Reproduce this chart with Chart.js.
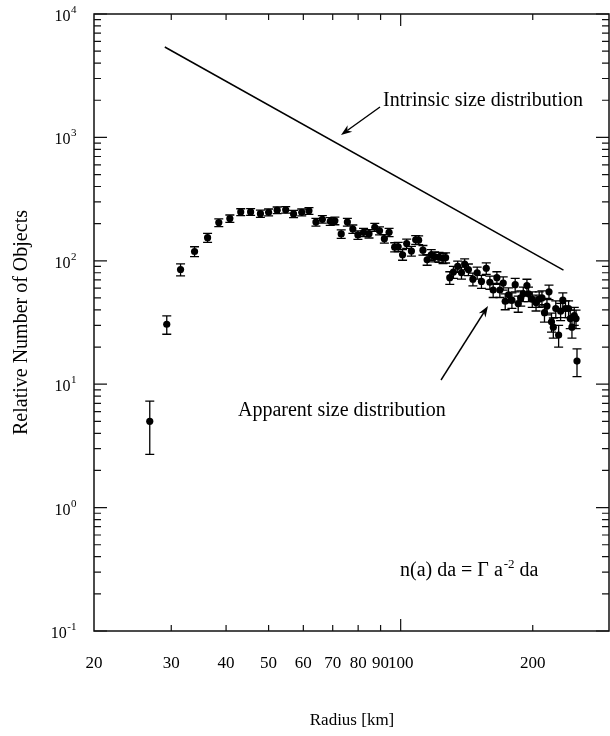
<!DOCTYPE html>
<html>
<head>
<meta charset="utf-8">
<script src="https://cdn.jsdelivr.net/npm/chart.js@4.4.1/dist/chart.umd.min.js"></script>
<style>
  html,body{margin:0;padding:0;background:#fff;}
  #c{display:block;}
</style>
</head>
<body>
<canvas id="c" width="610" height="736"></canvas>
<script>
// ---- data ----
const radius = [26.8,29.3,31.5,33.9,36.3,38.5,40.8,43.2,45.5,47.9,50.0,52.3,54.7,57.0,59.5,61.8,64.1,66.3,69.1,70.8,
  73.2,75.6,77.8,79.9,82.3,84.7,87.3,89.5,91.8,94.1,96.9,98.7,101,103.2,105.8,108.2,109.9,112.4,114.9,117.4,
  119.5,122.3,124.9,126.6,129.4,131.9,134.9,137.6,139.9,142.7,146.1,149.4,152.8,156.7,159.7,162.5,165.7,168.3,171.3,173.1,
  176.1,179.3,182.4,185.3,187.8,190.3,194.0,195.6,199.5,203.5,206.9,209.9,212.7,215.5,217.8,220.7,222.8,225.7,229.1,231.5,
  234.2,237.5,241.4,243.5,245.7,248.7,251.0,252.3];
const counts = [5.0,30.6,85,119,154,204,220,248,249,241,247,257,259,240,247,254,206,217,209,211,
  165,206,181,162,170,166,187,175,151,170,129,130,112,138,120,148,147,122,102,112,
  108,107,105,106,73,81,90,80,94,85,71,80,68,87,67,58,73,58,66,47,
  53,48,64,45,50,54,63,54,49,46,49,50,38,43,56,32,29,41,25,39,
  48,41,41,34,29,36,34,15.4];
const countErr = [2.3,5.2,9.5,11,13,15,15,16,16,16,16,16,16,16,16,16,15,15,15,15,
  13,15,14,13,13,13,14,13,12,13,11,11,11,12,11,12,12,11,10,11,
  10,10,10,10,8.5,9,9.5,9,9.7,9.2,8.4,9,8.2,9.3,8.2,7.6,8.5,7.6,8.1,6.9,
  7.3,6.9,8,6.7,7,7.3,7.9,7.3,7,6.8,7,7,6.1,6.6,7.5,5.6,5.4,6.4,5,6.2,
  6.9,6.4,6.4,5.8,5.4,6,5.8,3.9];
const lineRadius = [29, 235];
const lineCounts = [5400, 84];
const xTickValues = [20,30,40,50,60,70,80,90,100,200];
const xTickLabels = ['20','30','40','50','60','70','80','90','100','200'];
const yTickValues = [0.1,1,10,100,1000,10000];
const yTickExponents = ['-1','0','1','2','3','4'];

const FONT = '"Liberation Serif", "Times New Roman", "DejaVu Serif", serif';

const errorBars = {
  id:'errorBars',
  afterDatasetsDraw(chart){
    const ctx = chart.ctx, ys = chart.scales.y;
    const meta = chart.getDatasetMeta(0);
    ctx.save();
    ctx.strokeStyle = '#000'; ctx.lineWidth = 1.3;
    meta.data.forEach((el,i)=>{
      const x = el.x;
      const yt = ys.getPixelForValue(counts[i]+countErr[i]);
      const yb = ys.getPixelForValue(Math.max(counts[i]-countErr[i], 0.11));
      ctx.beginPath();
      ctx.moveTo(x,yt); ctx.lineTo(x,yb);
      ctx.moveTo(x-4.5,yt); ctx.lineTo(x+4.5,yt);
      ctx.moveTo(x-4.5,yb); ctx.lineTo(x+4.5,yb);
      ctx.stroke();
    });
    ctx.restore();
  }
};

function arrow(ctx,x1,y1,x2,y2){
  const a = Math.atan2(y2-y1,x2-x1), L=11, W=4;
  ctx.beginPath(); ctx.moveTo(x1,y1);
  ctx.lineTo(x2-L*0.7*Math.cos(a), y2-L*0.7*Math.sin(a)); ctx.stroke();
  ctx.beginPath();
  ctx.moveTo(x2,y2);
  ctx.lineTo(x2-L*Math.cos(a)+W*Math.sin(a), y2-L*Math.sin(a)-W*Math.cos(a));
  ctx.lineTo(x2-L*0.7*Math.cos(a), y2-L*0.7*Math.sin(a));
  ctx.lineTo(x2-L*Math.cos(a)-W*Math.sin(a), y2-L*Math.sin(a)+W*Math.cos(a));
  ctx.closePath(); ctx.fill();
}

const frame = {
  id:'frame',
  afterDraw(chart){
    const ctx = chart.ctx, xs = chart.scales.x, ys = chart.scales.y;
    const {left,right,top,bottom} = chart.chartArea;
    ctx.save();
    ctx.strokeStyle = '#111'; ctx.fillStyle='#111'; ctx.lineWidth = 1.5;
    ctx.strokeRect(left,top,right-1-left,bottom-top);
    ctx.lineWidth = 1.2;
    // x ticks (bottom and top, inward)
    for (const d of [10,100]) for (let m=1;m<=9;m++){
      const v=m*d; if (v<=xs.min || v>=xs.max) continue;
      const px = xs.getPixelForValue(v);
      const len = (m===1)?12:6;
      ctx.beginPath(); ctx.moveTo(px,bottom); ctx.lineTo(px,bottom-len);
      ctx.moveTo(px,top); ctx.lineTo(px,top+len); ctx.stroke();
    }
    // y ticks (left and right, inward)
    for (let k=-1;k<=4;k++) for (let m=1;m<=9;m++){
      const v=m*Math.pow(10,k); if (v<=ys.min*0.999 || v>=ys.max*1.001) continue;
      const py = ys.getPixelForValue(v);
      const len = (m===1)?13:7;
      ctx.beginPath(); ctx.moveTo(left,py); ctx.lineTo(left+len,py);
      ctx.moveTo(right-1,py); ctx.lineTo(right-1-len,py); ctx.stroke();
    }
    // y tick labels: 10 with superscript exponent
    ctx.fillStyle = '#000';
    ctx.textBaseline = 'alphabetic'; ctx.textAlign = 'left';
    yTickValues.forEach((v,i)=>{
      const py = ys.getPixelForValue(v);
      ctx.font = '11px ' + FONT;
      const ew = ctx.measureText(yTickExponents[i]).width;
      ctx.font = '16px ' + FONT;
      const bw = ctx.measureText('10').width;
      const x0 = 76 - ew - bw;
      ctx.fillText('10', x0, py + 7);
      ctx.font = '11px ' + FONT;
      ctx.fillText(yTickExponents[i], x0 + bw + 0.5, py - 1);
    });
    // annotations
    ctx.fillStyle = '#000'; ctx.strokeStyle='#000'; ctx.lineWidth=1.4;
    ctx.font = '20px ' + FONT; ctx.textBaseline='alphabetic'; ctx.textAlign='left';
    ctx.fillText('Intrinsic size distribution', 383, 106);
    arrow(ctx, 380, 107, 341, 135);
    ctx.fillText('Apparent size distribution', 238, 416);
    arrow(ctx, 441, 380, 488, 306);
    // equation
    let x = 400; const yb = 576;
    const s1 = 'n(a) da = \u0393 a';
    ctx.fillText(s1, x, yb); x += ctx.measureText(s1).width + 1;
    ctx.font = '13px ' + FONT;
    ctx.fillText('-2', x, yb-8); x += ctx.measureText('-2').width;
    ctx.font = '20px ' + FONT;
    ctx.fillText(' da', x, yb);
    ctx.restore();
  }
};

new Chart(document.getElementById('c'), {
  data:{
    datasets:[
      { type:'scatter', data: radius.map((r,i)=>({x:r,y:counts[i]})),
        backgroundColor:'#000', borderColor:'#000', pointRadius:3.6, pointHoverRadius:3.6, borderWidth:0 },
      { type:'line', data: lineRadius.map((r,i)=>({x:r,y:lineCounts[i]})),
        borderColor:'#000', borderWidth:1.5, pointRadius:0, fill:false, tension:0 }
    ]
  },
  options:{
    responsive:false, animation:false, devicePixelRatio:1,
    layout:{autoPadding:false, padding:{top:14,right:0,left:0,bottom:0}},
    plugins:{legend:{display:false}, tooltip:{enabled:false}},
    scales:{
      x:{ type:'logarithmic', min:20, max:300, position:'bottom',
        afterBuildTicks(s){ s.ticks = xTickValues.map(v=>({value:v})); },
        afterFit(s){ s.height = 105; s.paddingLeft = 0; s.paddingRight = 0; },
        grid:{display:false, drawTicks:false}, border:{display:false},
        ticks:{ autoSkip:false, maxRotation:0, padding:22, color:'#000',
          font:{family:FONT, size:17},
          callback:(v)=>{ const i=xTickValues.indexOf(v); return i>=0?xTickLabels[i]:''; } },
        title:{display:true, text:'Radius [km]', color:'#000', font:{family:FONT,size:17}, padding:{top:0,bottom:5}}
      },
      y:{ type:'logarithmic', min:0.1, max:10000, position:'left',
        afterBuildTicks(s){ s.ticks = yTickValues.map(v=>({value:v})); },
        afterFit(s){ s.width = 94; s.paddingTop = 0; s.paddingBottom = 0; },
        grid:{display:false, drawTicks:false}, border:{display:false},
        ticks:{ display:false, autoSkip:false },
        title:{display:true, text:'Relative Number of Objects', color:'#000', font:{family:FONT,size:20}, padding:{top:10,bottom:0}}
      }
    }
  },
  plugins:[errorBars, frame]
});
</script>
</body>
</html>
